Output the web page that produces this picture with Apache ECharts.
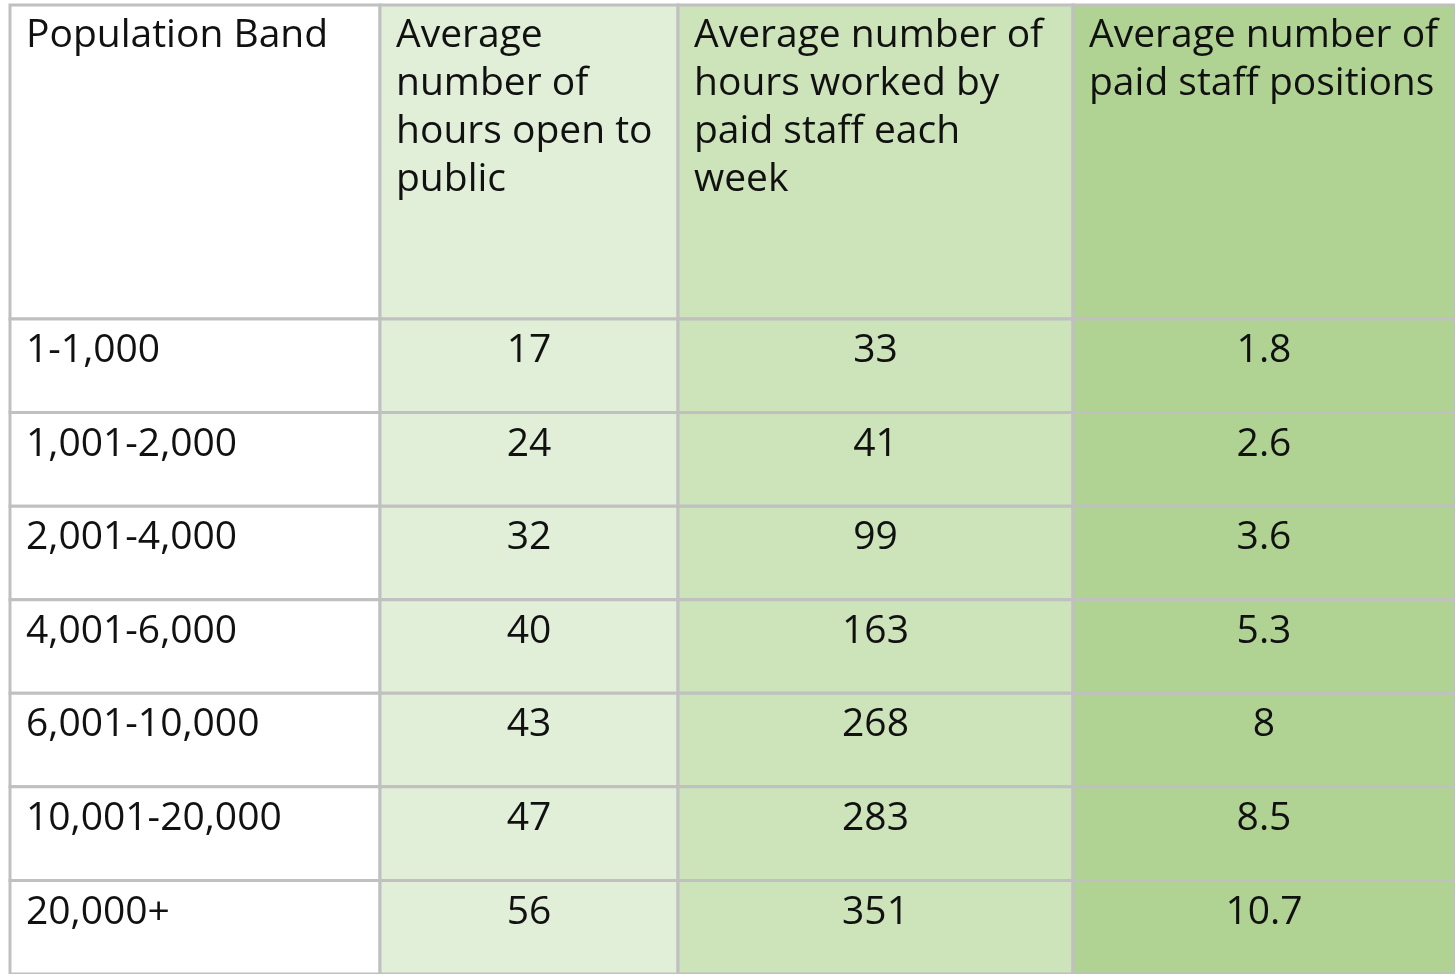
<!DOCTYPE html>
<html lang="en">

<head>
    <meta charset="UTF-8">
    <title>Population band table</title>
    <style>
        * {
            padding: 0;
            margin: 0;
            box-sizing: border-box;
        }

        html,
        body {
            width: 100%;
            height: 100%;
            overflow: hidden;
            background: #fff;
        }

        #box {
            width: 1455px;
            height: 974px;
        }
    </style>
</head>

<body>
    <div id="box"></div>
</body>
<script src="https://cdn.jsdelivr.net/npm/echarts@6/dist/echarts.min.js"></script>
<script>
    // table content
    var columnTitles = [
        'Population Band',
        'Average\nnumber of\nhours open to\npublic',
        'Average number of\nhours worked by\npaid staff each\nweek',
        'Average number of\npaid staff positions'
    ];
    var populationBands = ['1-1,000', '1,001-2,000', '2,001-4,000', '4,001-6,000', '6,001-10,000', '10,001-20,000', '20,000+'];
    var hoursOpen = [17, 24, 32, 40, 43, 47, 56];
    var staffHours = [33, 41, 99, 163, 268, 283, 351];
    var staffPositions = [1.8, 2.6, 3.6, 5.3, 8, 8.5, 10.7];

    // layout
    var colEdges = [10, 380, 678, 1073, 1458];
    var colFill = ['#ffffff', '#e1efd8', '#cde3ba', '#b0d394'];
    var headerTop = 5, headerHeight = 314, rowHeight = 94.3;
    var border = '#c0c0c0';
    var font = '39px "Open Sans"';

    var columns = [populationBands, hoursOpen, staffHours, staffPositions];

    var box = echarts.init(document.getElementById('box'));
    var grids = [], xAxes = [], yAxes = [], series = [];

    function cellRect(api) {
        var c = api.coord([api.value(0), api.value(1)]);
        var s = api.size([0, 1]);
        return { x: c[0] - s[0] / 2, y: c[1] - s[1] / 2, width: s[0], height: s[1] };
    }

    columns.forEach(function (col, ci) {
        var left = colEdges[ci], width = colEdges[ci + 1] - colEdges[ci];
        // header grid
        grids.push({ left: left, width: width, top: headerTop, height: headerHeight });
        // body grid
        grids.push({ left: left, width: width, top: headerTop + headerHeight, height: rowHeight * populationBands.length });

        var hg = ci * 2, bg = ci * 2 + 1;
        xAxes.push({ type: 'category', gridIndex: hg, data: [columnTitles[ci]], show: false });
        xAxes.push({ type: 'category', gridIndex: bg, data: [columnTitles[ci]], show: false });
        yAxes.push({ type: 'category', gridIndex: hg, data: ['header'], show: false });
        yAxes.push({ type: 'category', gridIndex: bg, data: populationBands, inverse: true, show: false });

        series.push({
            type: 'custom',
            xAxisIndex: hg,
            yAxisIndex: hg,
            data: [[columnTitles[ci], 'header']],
            renderItem: function (params, api) {
                var r = cellRect(api);
                return {
                    type: 'group',
                    children: [
                        { type: 'rect', shape: r, style: { fill: colFill[ci], stroke: border, lineWidth: 3 } },
                        {
                            type: 'text',
                            style: {
                                x: r.x + 16, y: r.y + 7, text: columnTitles[ci], font: font,
                                fill: '#111', align: 'left', verticalAlign: 'top', lineHeight: 48
                            }
                        }
                    ]
                };
            }
        });

        series.push({
            type: 'custom',
            xAxisIndex: bg,
            yAxisIndex: bg,
            data: populationBands.map(function (b, ri) { return [columnTitles[ci], b, col[ri]]; }),
            renderItem: function (params, api) {
                var r = cellRect(api);
                var txt = String(col[params.dataIndex]);
                var first = ci === 0;
                return {
                    type: 'group',
                    children: [
                        { type: 'rect', shape: r, style: { fill: colFill[ci], stroke: border, lineWidth: 3 } },
                        {
                            type: 'text',
                            style: {
                                x: first ? r.x + 16 : r.x + r.width / 2, y: r.y + 8, text: txt, font: font,
                                fill: '#111', align: first ? 'left' : 'center', verticalAlign: 'top', lineHeight: 48
                            }
                        }
                    ]
                };
            }
        });
    });

    var option = {
        animation: false,
        grid: grids,
        xAxis: xAxes,
        yAxis: yAxes,
        series: series
    };
    box.setOption(option);
</script>

</html>
